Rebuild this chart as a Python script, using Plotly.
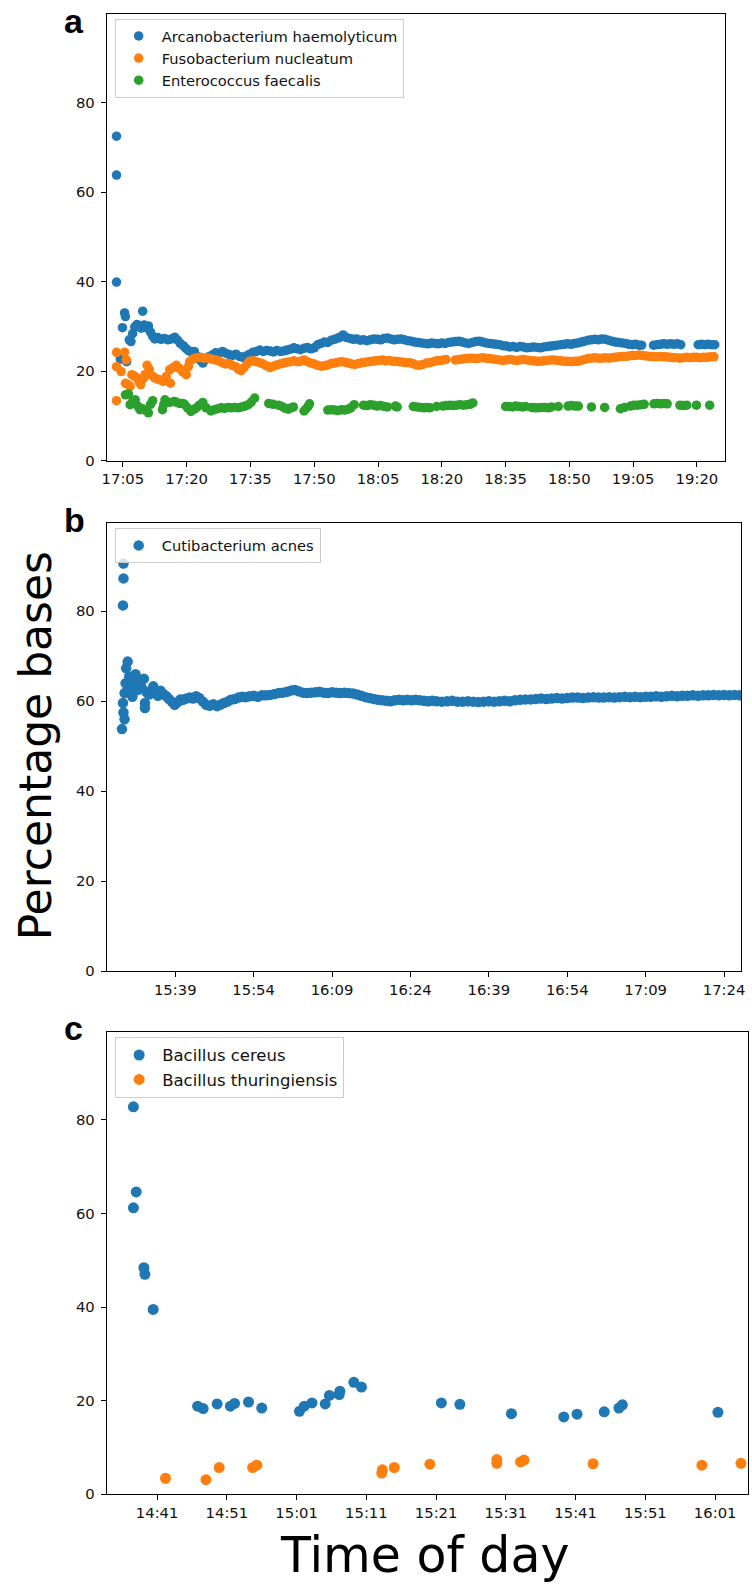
import plotly.graph_objects as go
import pandas as pd

DAY = "2021-03-01"

# ---------------- Panel a (minutes after 17:05) ----------------
A_START = "17:05"
A_TICKS = ["17:05", "17:20", "17:35", "17:50", "18:05", "18:20", "18:35", "18:50", "19:05", "19:20"]
A_NAMES = ["Arcanobacterium haemolyticum", "Fusobacterium nucleatum", "Enterococcus faecalis"]

A1_T = [-1.5, -1.5, -1.5, -0.6, -0.1, 0.4, 0.6, 0.9, 1.5, 1.9, 2.3, 2.8, 3.3, 3.8, 4.3, 4.65, 5.0, 5.5, 6.0, 6.5,
        7.0, 7.5, 8.2, 9.0, 9.8, 10.6, 11.4, 12.2, 12.9, 13.5, 14.2, 14.8, 15.4, 16.1, 16.8, 17.5, 18.2, 18.8, 19.5,
        20.3, 21.0, 21.8, 22.6, 23.4, 24.2, 25.0, 25.8, 26.6, 27.4, 28.2, 29.0, 29.8, 30.6, 31.4, 32.2, 33.0, 33.8,
        34.6, 35.4, 36.2, 37.0, 37.8, 38.6, 39.4, 40.2, 41.0, 41.8, 42.6, 43.4, 44.2, 45.0, 45.8, 46.6, 47.4, 48.2,
        49.0, 49.8, 50.6, 51.4, 51.8, 52.6, 53.4, 54.2, 55.0, 55.8, 56.6, 57.4, 58.2, 59.0, 59.8, 60.6, 61.4, 62.2,
        63.0, 63.8, 64.6, 65.4, 66.2, 67.0, 67.8, 68.6, 69.4, 70.2, 71.0, 71.8, 72.6, 73.4, 74.2, 75.0, 75.8, 76.6,
        77.4, 78.2, 79.0, 79.8, 80.6, 81.4, 82.2, 83.0, 83.8, 84.6, 85.4, 86.2, 87.0, 87.8, 88.6, 89.4, 90.2, 91.0,
        91.8, 92.6, 93.4, 94.2, 95.0, 95.8, 96.6, 97.4, 98.2, 99.0, 99.8, 100.6, 101.4, 102.2, 103.0, 103.8, 104.6,
        105.4, 106.2, 107.0, 107.8, 108.6, 109.4, 110.2, 111.0, 111.8, 112.6, 113.4, 114.2, 115.0, 115.8, 116.6,
        117.4, 118.2, 119.0, 119.8, 120.6, 121.4, 122.0, 124.8, 125.6, 126.4, 127.2, 128.0, 128.8, 129.6, 130.4,
        131.2, 135.3, 136.1, 136.9, 137.7, 138.5, 139.2]
A1_V = [72.5, 63.8, 39.9, 22.7, 29.7, 33.0, 32.2, 22.1, 27.0, 26.6, 28.4, 29.9, 30.4, 30.2, 29.6, 33.4, 30.3, 29.7, 30.1, 28.7,
        27.8, 27.2, 27.5, 27.1, 27.3, 27.0, 27.2, 27.6, 26.9, 26.2, 25.7, 25.1, 24.6, 24.3, 24.4, 23.3, 22.4, 21.8, 22.6,
        23.3, 23.6, 24.1, 24.0, 24.4, 24.0, 23.7, 23.5, 23.8, 23.3, 23.1, 23.4, 23.8, 24.2, 24.4, 24.7, 24.4, 24.6,
        24.5, 24.3, 24.6, 24.4, 24.5, 24.7, 24.9, 25.2, 25.0, 24.8, 25.1, 25.3, 25.0, 25.2, 25.9, 26.2, 26.5, 26.4,
        26.9, 27.1, 27.4, 27.7, 28.1, 27.5, 27.3, 27.1, 27.2, 26.9, 27.0, 26.8, 27.0, 27.2, 27.1, 27.0, 27.3, 27.4,
        27.2, 27.0, 27.1, 27.2, 27.0, 26.8, 26.7, 26.5, 26.4, 26.3, 26.2, 26.1, 26.3, 26.2, 26.1, 26.3, 26.2, 26.4,
        26.5, 26.6, 26.7, 26.5, 26.3, 26.2, 26.4, 26.6, 26.7, 26.5, 26.3, 26.2, 26.1, 26.0, 25.9, 25.7, 25.6, 25.4,
        25.5, 25.3, 25.5, 25.4, 25.2, 25.3, 25.4, 25.3, 25.2, 25.4, 25.5, 25.6, 25.7, 25.8, 25.9, 26.0, 26.1,
        26.0, 26.2, 26.3, 26.5, 26.7, 26.9, 27.0, 27.1, 27.0, 27.2, 27.1, 26.9, 26.7, 26.5, 26.4,
        26.3, 26.2, 26.0, 25.9, 26.0, 25.8, 25.8, 25.8, 25.9, 26.0, 26.1, 26.0, 26.1, 26.0, 26.1,
        25.9, 25.9, 26.0, 25.9, 26.0, 25.9, 25.9]

A2_T = [-1.5, -1.5, -1.5, -0.4, 0.4, 0.8, 0.6, 1.2, 1.7, 2.1, 2.7, 3.3, 3.8, 4.2, 4.8, 5.2, 5.7, 6.2, 6.8, 7.5,
        8.2, 8.9, 9.5, 10.2, 11.0, 11.2, 11.8, 12.6, 13.3, 14.1, 14.9, 15.4, 15.7, 16.3, 16.9, 17.6, 18.3, 19.0,
        19.7, 20.4, 21.1, 21.8, 22.5, 23.3, 24.1, 24.9, 25.7, 26.5, 27.2, 27.8, 28.5, 29.2, 29.8, 30.6, 31.4, 32.2,
        33.0, 33.8, 34.6, 35.4, 36.2, 37.0, 37.8, 38.6, 39.4, 40.2, 41.0, 41.8, 42.6, 43.4, 44.2, 45.0, 45.8, 46.6,
        47.4, 48.2, 49.0, 49.8, 50.6, 51.4, 52.2, 53.0, 53.8, 54.6, 55.4, 56.2, 57.0, 57.8, 58.6, 59.4, 60.2, 61.0,
        61.8, 62.6, 63.4, 64.2, 65.0, 65.8, 66.6, 67.4, 68.2, 69.0, 69.8, 70.6, 71.4, 72.2, 73.0, 73.8, 74.6, 75.4,
        76.0, 78.2, 79.0, 79.8, 80.6, 81.4, 82.2, 83.0, 83.8, 84.6, 85.4, 86.2, 87.0, 87.8, 88.6, 89.4, 90.2, 91.0,
        91.8, 92.6, 93.4, 94.2, 95.0, 95.8, 96.6, 97.4, 98.2, 99.0, 99.8, 100.6, 101.4, 102.2, 103.0, 103.8, 104.6,
        105.4, 106.2, 107.0, 107.8, 108.6, 109.4, 110.2, 111.0, 111.8, 112.6, 113.4, 114.2, 115.0, 115.8, 116.6,
        117.4, 118.2, 119.0, 119.8, 120.6, 121.4, 122.2, 123.0, 123.8, 124.6, 125.4, 126.2, 127.0, 127.8, 128.6,
        129.4, 130.2, 131.0, 131.8, 132.6, 133.4, 134.2, 135.0, 135.8, 136.6, 137.4, 138.2, 139.0]
A2_V = [13.4, 21.0, 24.2, 19.9, 24.2, 22.5, 17.3, 17.0, 16.6, 19.2, 18.9, 18.5, 17.6, 17.0, 18.3, 19.2, 21.3, 20.4, 19.0, 18.5,
        18.2, 18.0, 17.7, 18.8, 20.3, 17.3, 20.8, 21.3, 20.6, 19.8, 19.2, 21.0, 22.1, 22.6, 22.9, 23.0, 23.1, 22.9,
        23.0, 22.8, 22.6, 22.5, 22.3, 21.9, 21.6, 21.7, 21.3, 21.0, 20.4, 20.1, 20.8, 21.6, 22.2, 22.3, 22.1, 21.9,
        21.6, 21.2, 20.8, 21.1, 21.4, 21.6, 21.8, 22.0, 22.1, 22.3, 22.1, 22.2, 22.5, 22.1, 21.8, 21.6, 21.3, 21.1,
        21.2, 21.4, 21.7, 21.8, 22.0, 22.1, 22.0, 21.8, 21.6, 21.5, 21.7, 21.9, 22.0, 22.1, 22.2, 22.3, 22.4, 22.5,
        22.3, 22.4, 22.2, 22.2, 22.1, 22.0, 21.9, 21.9, 21.7, 21.4, 21.3, 21.5, 21.8, 21.9, 22.1, 22.3, 22.4, 22.5,
        22.6, 22.5, 22.6, 22.7, 22.8, 22.9, 22.9, 22.8, 22.9, 23.0, 22.9, 22.8, 22.7, 22.6, 22.5, 22.4, 22.5, 22.6,
        22.5, 22.4, 22.5, 22.6, 22.5, 22.4, 22.3, 22.2, 22.2, 22.3, 22.4, 22.5, 22.5, 22.4, 22.3, 22.2, 22.2,
        22.1, 22.2, 22.2, 22.4, 22.6, 22.8, 22.9, 23.0, 22.9, 22.9, 23.0, 22.9, 23.0, 23.1, 23.2,
        23.3, 23.3, 23.4, 23.5, 23.5, 23.6, 23.5, 23.4, 23.3, 23.3, 23.2, 23.3, 23.2, 23.2, 23.1,
        23.0, 23.0, 22.9, 23.0, 23.1, 23.0, 23.1, 23.1, 23.0, 23.1, 23.1, 23.2, 23.2]

A3_T = [0.6, 1.3, 1.7, 2.3, 2.9, 3.5, 4.0, 4.6, 5.4, 6.0, 6.5, 7.0, 9.3, 9.6, 9.9, 11.0, 12.0, 12.5, 13.3, 14.0,
        14.5, 15.2, 16.0, 16.8, 17.4, 18.0, 18.8, 19.6, 20.7, 21.5, 22.3, 23.1, 23.9, 24.7, 25.5, 26.3, 27.1, 27.9,
        28.7, 29.5, 30.2, 31.0, 34.3, 35.3, 36.6, 37.4, 38.2, 38.9, 39.6, 40.1, 42.6, 43.1, 43.6, 43.9, 48.2, 49.0,
        49.8, 50.6, 51.4, 52.2, 53.0, 53.6, 54.4, 56.6, 57.4, 58.2, 59.0, 59.8, 60.6, 61.4, 62.2, 64.1, 64.5, 68.3,
        69.1, 70.0, 70.8, 71.5, 72.2, 73.8, 75.3, 76.1, 76.9, 77.7, 78.5, 79.3, 80.1, 80.9, 81.7, 82.3, 90.0, 90.8,
        91.6, 92.4, 93.2, 94.0, 94.7, 96.1, 96.9, 97.7, 98.5, 99.3, 100.1, 100.8, 102.4, 104.7, 105.5, 106.3, 107.1,
        110.2, 113.3, 117.0, 118.0, 119.4, 120.2, 121.0, 121.8, 122.6, 124.9, 125.7, 126.5, 127.3, 128.0, 131.0,
        131.8, 132.6, 134.9, 138.0]
A3_V = [14.7, 14.9, 12.5, 13.2, 13.6, 12.2, 11.4, 11.6, 11.2, 10.7, 12.6, 13.4, 11.4, 12.5, 13.6, 13.0, 13.2, 13.1, 12.8, 12.8,
        12.6, 11.8, 11.0, 11.5, 11.9, 12.4, 13.0, 11.8, 11.1, 11.4, 11.6, 11.8, 11.7, 11.9, 11.8, 11.9, 11.8, 12.0,
        12.2, 12.5, 13.1, 14.0, 12.8, 12.6, 12.4, 12.1, 11.7, 11.5, 11.8, 12.0, 11.1, 11.6, 12.2, 12.7, 11.3, 11.4,
        11.3, 11.2, 11.4, 11.3, 11.5, 11.8, 12.5, 12.4, 12.3, 12.5, 12.4, 12.2, 12.3, 12.1, 12.0, 12.2, 12.0, 12.1,
        12.0, 11.9, 11.8, 11.9, 11.8, 12.1, 12.2, 12.3, 12.4, 12.3, 12.4, 12.5, 12.4, 12.5, 12.6, 12.9, 12.1, 12.1,
        12.0, 12.2, 12.1, 12.0, 12.1, 11.9, 11.8, 11.8, 11.9, 11.9, 11.8, 12.0, 12.1, 12.2, 12.3, 12.2, 12.2,
        12.0, 11.9, 11.6, 11.9, 12.2, 12.4, 12.4, 12.5, 12.6, 12.7, 12.8, 12.7, 12.8, 12.7, 12.4,
        12.3, 12.4, 12.4, 12.4]

# ---------------- Panel b (minutes after 15:39) ----------------
B_START = "15:39"
B_TICKS = ["15:39", "15:54", "16:09", "16:24", "16:39", "16:54", "17:09", "17:24"]
B_NAMES = ["Cutibacterium acnes"]

B1_T = [-9.9, -9.9, -10.0, -10.2, -9.7, -9.9, -10.0, -9.7, -9.5, -9.4, -9.1, -8.8, -8.6, -8.4, -8.2, -8.0, -7.6,
        -7.2, -6.8, -6.4, -6.0, -5.8, -5.8, -5.5, -5.0, -4.6, -4.2, -3.8, -3.3, -2.8, -2.3, -1.7, -1.2, -0.6, -0.1,
        0.5, 1.0, 1.5, 2.1, 2.8, 3.4, 4.0, 4.6, 5.3, 5.9, 6.6, 7.3, 8.0, 8.6, 9.3, 10.0, 10.6, 11.4, 12.1, 12.8,
        13.5, 14.2, 15.0, 15.8, 16.6, 17.4, 18.2, 19.0, 19.8, 20.6, 21.4, 22.2, 22.9, 23.6, 24.4, 25.2, 26.0, 26.8,
        27.6, 28.4, 29.2, 30.0, 30.8, 31.6, 32.4, 33.2, 34.0, 34.8, 35.6, 36.4, 37.2, 38.0, 38.8, 39.6, 40.4, 41.2,
        42.0, 42.8, 43.6, 44.4, 45.2, 46.0, 46.8, 47.6, 48.4, 49.2, 50.0, 51.0, 52.0, 53.0, 54.0, 55.0, 56.0, 57.0,
        58.0, 59.0, 60.0, 61.0, 62.0, 63.0, 64.0, 65.0, 66.0, 67.0, 68.0, 69.0, 70.0, 71.0, 72.0, 73.0, 74.0, 75.0,
        76.0, 77.0, 78.0, 79.0, 80.0, 81.0, 82.0, 83.0, 84.0, 85.0, 86.0, 87.0, 88.0, 89.0, 90.0, 91.0, 92.0, 93.0,
        94.0, 95.0, 96.0, 97.0, 98.0, 99.0, 100.0, 101.0, 102.0, 103.0, 104.0, 105.0, 106.0, 107.0, 108.0, 109.0]
B1_V = [90.6, 87.3, 81.3, 53.8, 56.0, 57.5, 59.6, 61.8, 64.0, 67.3, 68.8, 65.5, 62.5, 63.8, 61.0, 64.0, 66.0,
        62.5, 64.5, 63.0, 65.0, 59.6, 58.5, 62.0, 61.5, 62.3, 63.3, 62.0, 61.2, 62.3, 61.6, 61.1, 60.5, 59.8, 59.2,
        59.8, 60.4, 60.3, 60.6, 60.8, 60.6, 61.1, 60.7, 59.9, 59.2, 59.0, 59.3, 58.9, 59.2, 59.6, 59.9, 60.3, 60.5, 60.8, 61.0,
        60.9, 61.1, 61.2, 61.0, 61.3, 61.3, 61.4, 61.6, 61.8, 61.9, 62.1, 62.4, 62.5, 62.2, 61.9, 61.8, 61.9, 62.0,
        62.1, 61.9, 61.8, 62.0, 61.9, 61.8, 61.9, 61.8, 61.7, 61.5, 61.2, 60.9, 60.7, 60.5, 60.3, 60.2, 60.1, 60.0,
        60.2, 60.3, 60.2, 60.3, 60.2, 60.3, 60.2, 60.1, 60.0, 60.1, 60.0, 59.9, 60.0, 60.1, 59.9, 59.9, 60.0, 59.9,
        59.8, 59.9, 60.0, 59.9, 60.0, 60.1, 60.0, 60.2, 60.3, 60.4, 60.4, 60.5, 60.6, 60.5, 60.6, 60.7, 60.6, 60.7,
        60.8, 60.8, 60.7, 60.8, 60.9, 60.8, 60.8, 60.9, 60.8, 60.9, 61.0, 60.9, 61.0, 60.9, 61.0, 61.0, 61.1, 61.0,
        61.1, 61.2, 61.1, 61.2, 61.2, 61.3, 61.2, 61.3, 61.3, 61.4, 61.3, 61.4, 61.3, 61.4, 61.3, 61.4]

# ---------------- Panel c (minutes after 14:41) ----------------
C_START = "14:41"
C_TICKS = ["14:41", "14:51", "15:01", "15:11", "15:21", "15:31", "15:41", "15:51", "16:01"]
C_NAMES = ["Bacillus cereus", "Bacillus thuringiensis"]

C1_T = [-3.4, -3.0, -3.4, -1.9, -1.75, -0.57, 5.8, 6.6, 8.6, 10.5, 11.1, 13.1, 15.0, 20.4, 21.1, 22.2, 24.1,
        24.7, 26.1, 26.2, 28.2, 29.3, 40.75, 43.4, 50.8, 58.3, 60.2, 64.1, 66.2, 66.7, 80.4]
C1_V = [82.8, 64.6, 61.2, 48.4, 47.0, 39.5, 18.8, 18.3, 19.3, 18.8, 19.4, 19.7, 18.4, 17.7, 18.8, 19.5, 19.3,
        21.1, 21.3, 22.0, 23.9, 22.9, 19.5, 19.2, 17.2, 16.5, 17.1, 17.6, 18.4, 19.1, 17.5]
C2_T = [1.2, 7.0, 8.9, 13.7, 14.3, 32.2, 32.3, 34.0, 39.1, 48.7, 48.7, 52.1, 52.6, 62.5, 78.1, 83.7]
C2_V = [3.4, 3.1, 5.7, 5.7, 6.2, 4.5, 5.2, 5.7, 6.4, 7.4, 6.6, 6.9, 7.3, 6.5, 6.2, 6.6]

Y_TICKS = [0, 20, 40, 60, 80]
COLORS = ["#1f77b4", "#ff7f0e", "#2ca02c"]

W, H = 752, 1595


def times(start, mins):
    base = pd.Timestamp(f"{DAY} {start}")
    return [base + pd.Timedelta(minutes=m) for m in mins]


def tick_dates(labels):
    return [pd.Timestamp(f"{DAY} {s}") for s in labels]


def px(xs):
    return xs / W


def py(ys):
    return 1 - ys / H


fig = go.Figure()

panels = [
    (A_START, [(A1_T, A1_V), (A2_T, A2_V), (A3_T, A3_V)], A_NAMES, "", "legend", 9.5),
    (B_START, [(B1_T, B1_V)], B_NAMES, "2", "legend2", 10.5),
    (C_START, [(C1_T, C1_V), (C2_T, C2_V)], C_NAMES, "3", "legend3", 11),
]

for start, series, names, sfx, leg, msize in panels:
    for i, ((t, v), name) in enumerate(zip(series, names)):
        fig.add_trace(go.Scatter(
            x=times(start, t), y=v, mode="markers", name=name,
            marker=dict(color=COLORS[i], size=msize, line=dict(width=0)),
            xaxis="x" + sfx, yaxis="y" + sfx, legend=leg, legendgroup=leg + str(i),
        ))

TICKFONT = dict(family="DejaVu Sans", size=14.8, color="#111111")

axis_common = dict(showline=True, linecolor="black", linewidth=1.1, mirror=True, ticks="outside",
                   ticklen=5, tickwidth=1, tickcolor="black", showgrid=False, zeroline=False,
                   tickfont=TICKFONT)

geo = [
    ("", A_START, (-3.79, 141.67), A_TICKS, (103, 729), (14, 463), 99.8),
    ("2", B_START, (-13.10, 108.26), B_TICKS, (103, 745), (525.7, 976), 99.6),
    ("3", C_START, (-7.22, 84.71), C_TICKS, (103, 752), (1036.7, 1501.7), 98.9),
]
for sfx, start, (lo, hi), ticks, (xl, xr), (yt, yb), ytop in geo:
    base = pd.Timestamp(f"{DAY} {start}")
    xr_ = [base + pd.Timedelta(minutes=lo), base + pd.Timedelta(minutes=hi)]
    fig.update_layout(**{
        "xaxis" + sfx: dict(axis_common, type="date", domain=[px(xl), min(px(xr), 1.0)], anchor="y" + sfx,
                            range=xr_, tickmode="array", tickvals=tick_dates(ticks), ticktext=ticks),
        "yaxis" + sfx: dict(axis_common, domain=[py(yb), py(yt)], anchor="x" + sfx,
                            range=[0, ytop], tickmode="array", tickvals=Y_TICKS,
                            ticktext=[str(v) for v in Y_TICKS], ticklabelstandoff=3),
    })

LEG_COMMON = dict(xanchor="left", yanchor="top", bgcolor="rgba(255,255,255,0.8)",
                  bordercolor="#cccccc", borderwidth=1, traceorder="grouped", tracegroupgap=0,
                  itemwidth=36)
fig.update_layout(
    legend=dict(LEG_COMMON, x=px(111), y=py(19),
                font=dict(family="DejaVu Sans", size=14.7, color="#111111")),
    legend2=dict(LEG_COMMON, x=px(111), y=py(531),
                 font=dict(family="DejaVu Sans", size=14.7, color="#111111")),
    legend3=dict(LEG_COMMON, x=px(111.5), y=py(1042),
                 font=dict(family="DejaVu Sans", size=16.5, color="#111111")),
)

annotations = []
for label, base_y in [("a", 33), ("b", 534.3), ("c", 1045)]:
    annotations.append(dict(text=label, x=px(57.5), y=py(base_y - 11.8), xref="paper", yref="paper",
                            xanchor="left", yanchor="middle", showarrow=False,
                            font=dict(family="Liberation Sans", size=34, color="black", weight="bold")))
annotations.append(dict(text="Percentage bases", x=px(31), y=py(749.5), xref="paper", yref="paper",
                        xanchor="center", yanchor="middle", showarrow=False, textangle=-90,
                        font=dict(family="DejaVu Sans", size=44, color="black")))
annotations.append(dict(text="Time of day", x=px(425), y=py(1563), xref="paper", yref="paper",
                        xanchor="center", yanchor="middle", showarrow=False,
                        font=dict(family="DejaVu Sans", size=49, color="black")))

fig.update_layout(
    width=W, height=H, margin=dict(l=0, r=0, t=0, b=0),
    paper_bgcolor="white", plot_bgcolor="white",
    annotations=annotations, showlegend=True,
)

# remove the default 8px page margin so the figure fills the window exactly
fig.write_html("out.html", config={"displayModeBar": False},
               post_script="document.body.style.margin='0px';")
